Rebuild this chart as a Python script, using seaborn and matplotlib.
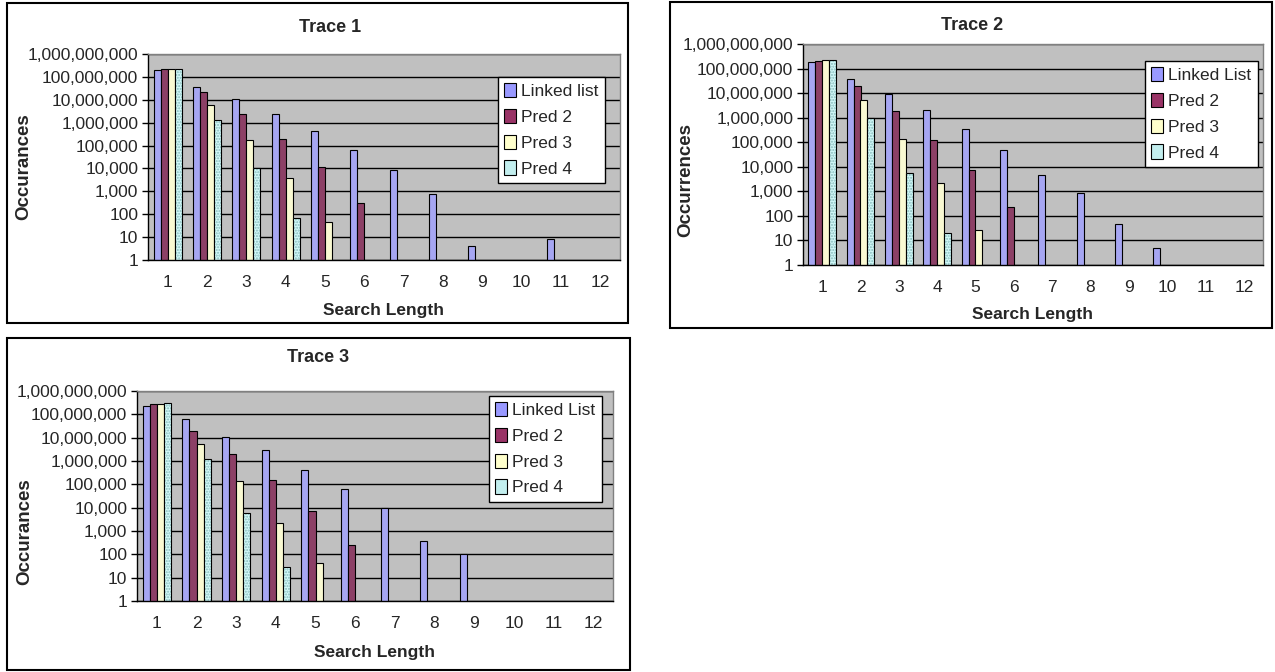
import numpy as np
import pandas as pd
import matplotlib
matplotlib.use("Agg")
import matplotlib.pyplot as plt
import seaborn as sns
from matplotlib.patches import Patch, Rectangle
from matplotlib.ticker import FixedLocator, FuncFormatter, NullFormatter

# search lengths on the x axis
lengths = [str(i) for i in range(1, 13)]
series = ["Linked List", "Pred 2", "Pred 3", "Pred 4"]

# Trace 1
t1_linked = [2.0e8, 3.8e7, 1.07e7, 2.3e6, 4.5e5, 6.6e4, 8700, 760, 4, None, 8.5, None]
t1_pred2 = [2.3e8, 2.2e7, 2.3e6, 1.9e5, 1.1e4, 297, None, None, None, None, None, None]
t1_pred3 = [2.3e8, 5.9e6, 1.7e5, 3800, 44, None, None, None, None, None, None, None]
t1_pred4 = [2.3e8, 1.26e6, 1.0e4, 68, None, None, None, None, None, None, None, None]

# Trace 2
t2_linked = [1.9e8, 3.9e7, 8.8e6, 2.0e6, 3.4e5, 4.9e4, 4800, 890, 46, 5, None, None]
t2_pred2 = [2.1e8, 1.9e7, 1.8e6, 1.26e5, 7200, 229, None, None, None, None, None, None]
t2_pred3 = [2.3e8, 5.3e6, 1.4e5, 2100, 27, None, None, None, None, None, None, None]
t2_pred4 = [2.3e8, 1.0e6, 5800, 20, None, None, None, None, None, None, None, None]

# Trace 3
t3_linked = [2.3e8, 6.3e7, 1.1e7, 3.1e6, 4.3e5, 6.6e4, 9300, 355, 102, None, None, None]
t3_pred2 = [2.8e8, 1.95e7, 1.95e6, 1.5e5, 7400, 257, None, None, None, None, None, None]
t3_pred3 = [2.8e8, 5.6e6, 1.37e5, 2200, 44, None, None, None, None, None, None, None]
t3_pred4 = [3.2e8, 1.2e6, 5800, 28, None, None, None, None, None, None, None, None]

titles = ["Trace 1", "Trace 2", "Trace 3"]
ylabels = ["Occurances", "Occurrences", "Occurances"]
legend_labels = [["Linked list", "Pred 2", "Pred 3", "Pred 4"],
                 ["Linked List", "Pred 2", "Pred 3", "Pred 4"],
                 ["Linked List", "Pred 2", "Pred 3", "Pred 4"]]
yticks = [1, 10, 100, 1000, 10000, 100000, 1000000, 10000000, 100000000, 1000000000]

colors = ["#9999FF", "#993366", "#FFFFCC", "#CCFFFF"]

sns.set_style("white")
plt.rcParams["font.family"] = ["Liberation Sans", "DejaVu Sans"]

W, H = 1275, 672
fig = plt.figure(figsize=(W / 100, H / 100), dpi=100)


def box(x0, y0, x1, y1):
    return [x0 / W, 1 - y1 / H, (x1 - x0) / W, (y1 - y0) / H]


def fx(x):
    return x / W


def fy(y):
    return 1 - y / H


# pixel layout of each panel: chart frame, plot area, text spots, legend corner
layout = [
    dict(frame=(7, 3, 628, 323), plot=(148, 54, 620, 260), title=(330, 27),
         ylab=(24, 167), xlab=(384, 310), leg=(498, 77)),
    dict(frame=(670, 2, 1272, 328), plot=(803, 44, 1263, 265), title=(972, 25),
         ylab=(686, 180), xlab=(1032, 315), leg=(1145, 61)),
    dict(frame=(7, 338, 630, 670), plot=(137, 391, 613, 601), title=(318, 357),
         ylab=(25, 532), xlab=(375, 653), leg=(489, 396)),
]

traces = [
    [t1_linked, t1_pred2, t1_pred3, t1_pred4],
    [t2_linked, t2_pred2, t2_pred3, t2_pred4],
    [t3_linked, t3_pred2, t3_pred3, t3_pred4],
]

for k, (vals, lay) in enumerate(zip(traces, layout)):
    rows = []
    for name, v in zip(series, vals):
        for length, c in zip(lengths, v):
            if c is not None:
                rows.append({"length": length, "count": c, "series": name})
    df = pd.DataFrame(rows)

    # chart frame
    x0, y0, x1, y1 = lay["frame"]
    fig.patches.append(Rectangle((fx(x0), fy(y1)), (x1 - x0) / W, (y1 - y0) / H,
                                 transform=fig.transFigure, fill=False,
                                 edgecolor="black", linewidth=1.5))

    ax = fig.add_axes(box(*lay["plot"]))
    ax.set_facecolor("#C0C0C0")
    sns.barplot(data=df, x="length", y="count", hue="series", order=lengths,
                hue_order=series, palette=colors, width=0.72, edgecolor="black",
                linewidth=0.8, errorbar=None, legend=False, ax=ax)
    ax.set_yscale("log")
    ax.set_ylim(1, 1e9)
    ax.set_xlim(-0.5, 11.5)

    # dotted texture on the Pred 4 bars
    for p in ax.containers[3]:
        p.set_hatch("......")
        p.set_edgecolor("#88BBBB")
        p.set_linewidth(0)
        ax.add_patch(Rectangle(p.get_xy(), p.get_width(), p.get_height(),
                               fill=False, edgecolor="black", linewidth=0.8, zorder=p.get_zorder()))

    ax.set_axisbelow(True)
    ax.yaxis.set_major_locator(FixedLocator(yticks))
    ax.yaxis.set_minor_locator(FixedLocator([]))
    ax.yaxis.set_major_formatter(FuncFormatter(lambda v, pos: f"{int(round(v)):,}"))
    ax.grid(axis="y", color="black", linewidth=1)
    ax.grid(axis="x", visible=False)
    ax.xaxis.set_minor_locator(FixedLocator(np.arange(-0.5, 12, 1.0)))
    ax.xaxis.set_minor_formatter(NullFormatter())
    ax.tick_params(axis="x", which="major", length=0, pad=11, labelsize=12.5)
    ax.tick_params(axis="x", which="minor", length=4, width=1, color="black", direction="out")
    ax.tick_params(axis="y", which="major", length=4, width=1, color="black",
                   direction="out", pad=3, labelsize=12.5, left=True)
    for side in ["top", "right"]:
        ax.spines[side].set_color("#808080")
        ax.spines[side].set_linewidth(1)
    for side in ["left", "bottom"]:
        ax.spines[side].set_color("black")
        ax.spines[side].set_linewidth(1)
    ax.set_xlabel("")
    ax.set_ylabel("")

    fig.text(fx(lay["title"][0]), fy(lay["title"][1]), titles[k], ha="center", va="center",
             fontsize=13, fontweight="bold")
    fig.text(fx(lay["ylab"][0]), fy(lay["ylab"][1]), ylabels[k], ha="center", va="center",
             rotation=90, fontsize=13.5, fontweight="bold")
    fig.text(fx(lay["xlab"][0]), fy(lay["xlab"][1]), "Search Length", ha="center", va="center",
             fontsize=12.5, fontweight="bold")

    handles = []
    for c, i in zip(colors, range(4)):
        handles.append(Patch(facecolor=c if i < 3 else "#C2EEEE", edgecolor="black", linewidth=0.8))
    leg = ax.legend(handles, legend_labels[k], loc="upper left",
                    bbox_to_anchor=(fx(lay["leg"][0]), fy(lay["leg"][1])),
                    bbox_transform=fig.transFigure, borderaxespad=0, fontsize=12.5,
                    handlelength=0.7, handleheight=0.9, handletextpad=0.3,
                    labelspacing=0.55, borderpad=0.35, fancybox=False, framealpha=1,
                    edgecolor="black")
    leg.get_frame().set_linewidth(1)

fig.savefig("out.png", dpi=100)
